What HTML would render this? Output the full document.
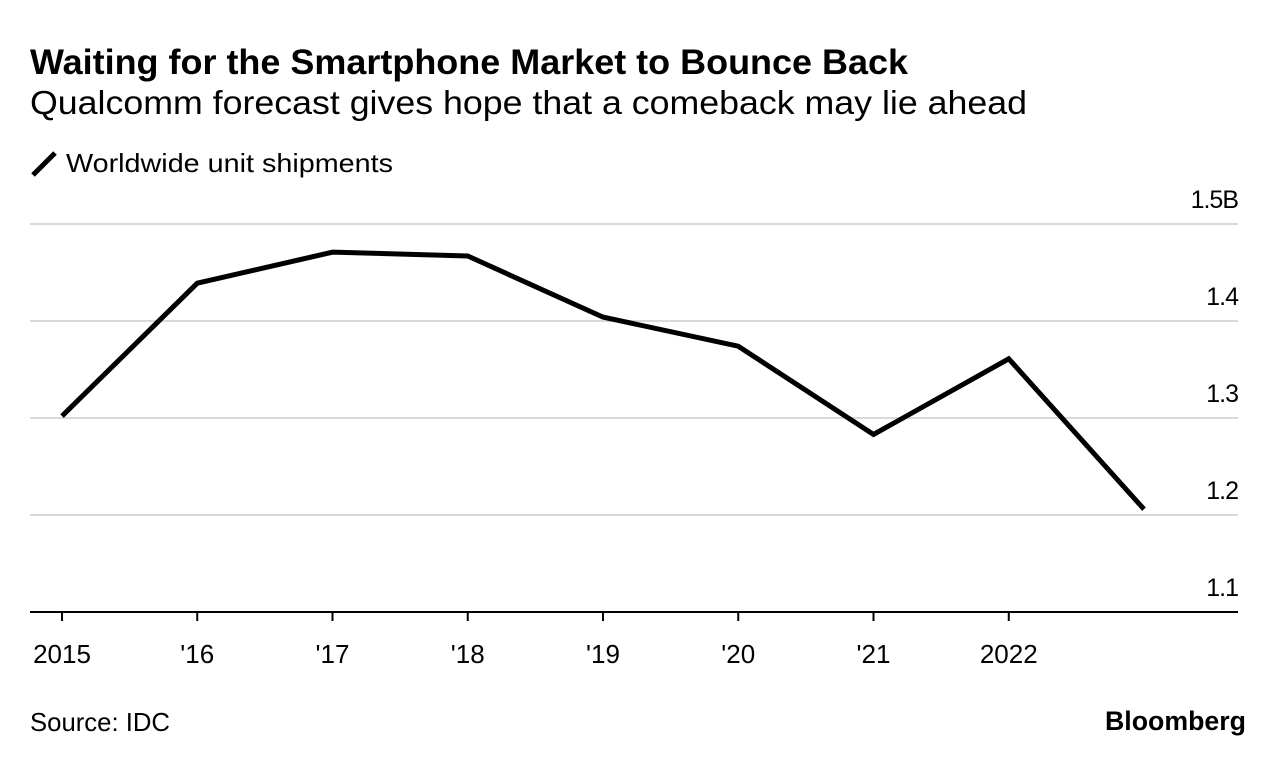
<!DOCTYPE html>
<html><head><meta charset="utf-8"><style>
body{margin:0;background:#fff;width:1285px;height:764px;overflow:hidden;font-family:"Liberation Sans",sans-serif;}
svg text{font-family:"Liberation Sans",sans-serif;}
</style></head><body>
<svg width="1285" height="764">
<text x="30" y="74" font-size="35" font-weight="bold" fill="#000" textLength="878" lengthAdjust="spacingAndGlyphs">Waiting for the Smartphone Market to Bounce Back</text>
<text x="30" y="114" font-size="33" fill="#000" textLength="997" lengthAdjust="spacingAndGlyphs">Qualcomm forecast gives hope that a comeback may lie ahead</text>
<line x1="33" y1="175" x2="55" y2="153" stroke="#000" stroke-width="5"/>
<text x="66" y="172" font-size="26" fill="#000" textLength="327" lengthAdjust="spacingAndGlyphs">Worldwide unit shipments</text>
<g id="grid"></g><g id="xaxis"></g>
<path id="line" fill="none" stroke="#000" stroke-width="5" stroke-linejoin="miter"/>
<text x="30" y="731" font-size="26" fill="#000" textLength="140" lengthAdjust="spacingAndGlyphs">Source: IDC</text>
<text x="1105" y="730" font-size="27" font-weight="bold" fill="#000" textLength="141" lengthAdjust="spacingAndGlyphs">Bloomberg</text>
</svg>
<script>
const years=["2015","'16","'17","'18","'19","'20","'21","2022",""];
const values=[1.302,1.439,1.471,1.467,1.404,1.374,1.283,1.361,1.206];
const yTicks=[1.1,1.2,1.3,1.4,1.5];
const yTickLabels=["1.1","1.2","1.3","1.4","1.5B"];
const NS="http://www.w3.org/2000/svg";
const xs=i=>62+i*135.25;
const ys=v=>612-(v-1.1)*970;
const grid=document.getElementById('grid');
yTicks.forEach((t,i)=>{
 const l=document.createElementNS(NS,'line');
 l.setAttribute('x1',30);l.setAttribute('x2',1238);l.setAttribute('y1',ys(t));l.setAttribute('y2',ys(t));
 l.setAttribute('stroke',i==0?'#000':'#d9d9d9');l.setAttribute('stroke-width',2);
 
 
 grid.appendChild(l);
 const tx=document.createElementNS(NS,'text');
 tx.setAttribute('x',1238);tx.setAttribute('y',ys(t)-16);tx.setAttribute('text-anchor','end');tx.setAttribute('font-size','25');
 tx.setAttribute('letter-spacing','-1');
 tx.textContent=yTickLabels[i];
 
 
 grid.appendChild(tx);
});
const xa=document.getElementById('xaxis');
years.forEach((y,i)=>{
 if(!y)return;
 const tk=document.createElementNS(NS,'line');
 tk.setAttribute('x1',xs(i));tk.setAttribute('x2',xs(i));tk.setAttribute('y1',612);tk.setAttribute('y2',621);
 tk.setAttribute('stroke','#000');tk.setAttribute('stroke-width',2);
 
 
 xa.appendChild(tk);
 const tx=document.createElementNS(NS,'text');
 tx.setAttribute('x',xs(i));tx.setAttribute('y',663);tx.setAttribute('text-anchor','middle');tx.setAttribute('font-size','26');
 tx.textContent=y;
 
 
 xa.appendChild(tx);
});
document.getElementById('line').setAttribute('d',values.map((v,i)=>(i?'L':'M')+xs(i)+' '+ys(v)).join(' '));
</script>
</body></html>
